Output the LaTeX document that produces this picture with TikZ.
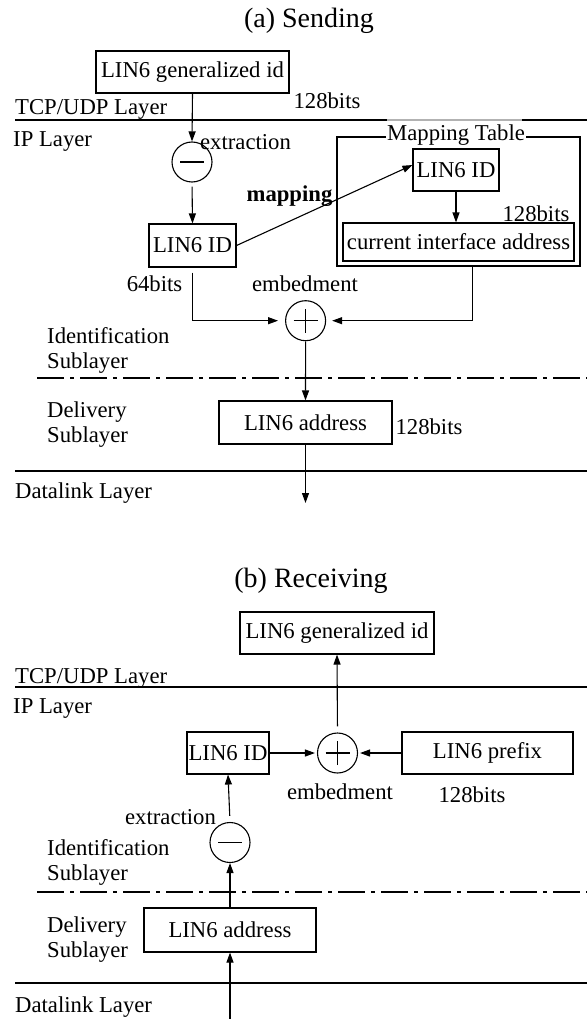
\documentclass[tikz,border=0pt]{standalone}
\usepackage{fontspec}
\setmainfont{Liberation Serif}
\usetikzlibrary{arrows.meta}
\begin{document}
\begin{tikzpicture}[x=1pt,y=-1pt,
  every node/.style={font=\fontsize{22.7}{25}\selectfont, inner sep=0pt},
  tl/.style={yshift=-3pt},
  ttl/.style={font=\fontsize{28}{30}\selectfont, yshift=-3pt},
  box/.style={draw, line width=1.1pt, minimum width=#1, inner sep=0pt},
  op/.style={draw, circle, line width=1.1pt, minimum size=40pt, inner sep=0pt},
  lab/.style={anchor=west, yshift=-3pt},
  two/.style={anchor=west, align=left, yshift=-3pt, font=\fontsize{22.7}{25}\selectfont},
  arr/.style={line width=1.1pt, -{Triangle[length=10pt,width=7pt]}},
  layer/.style={line width=1.1pt},
  sub/.style={line width=1.1pt, dash pattern=on 27pt off 6pt on 4pt off 6pt}
]
\useasboundingbox (0,0) rectangle (587,1019);

% ================= (a) Sending =================
\node[ttl] (ta) at (309,18) {(a) Sending};
\node[box=193pt, minimum height=42pt] (genA) at (192.5,72) {LIN6 generalized id};
\node[tl] (bgA) at (327,98) {128bits};
\node[lab] (tcpA) at (15,106) {TCP/UDP Layer};
\coordinate (lA1) at (15,120);
\coordinate (lA2) at (387,120);
\coordinate (lA3) at (522,120);
\coordinate (lA4) at (587,120);
\draw[layer] (lA1) -- (lA2);
\draw[layer, gray!60] (lA2) -- (lA3);
\draw[layer] (lA3) -- (lA4);
\node[lab] (ipA) at (13,139) {IP Layer};
\node[op] (minA) at (192,162) {};
\draw[line width=1.1pt] ([xshift=-12pt]minA.center) -- ([xshift=12pt]minA.center);
\node[tl] (exA) at (245.5,139) {extraction};
\node[box=87pt, minimum height=43pt] (idA) at (192.5,245.5) {LIN6 ID};
\node[tl] (mapA) at (289.5,193) {\bfseries mapping};
\node[tl] (b64) at (154.5,281) {64bits};

% mapping table
\draw[line width=1.1pt] (337,137) rectangle (580,266);
\node[fill=white, inner xsep=1pt] (mtl) at (456,135) {Mapping Table};
\node[box=86pt, minimum height=42pt] (idM) at (456,170) {LIN6 ID};
\node[tl] (bgM) at (536,211) {128bits};
\node[box=231pt, minimum height=38pt] (cia) at (458.5,242) {current interface address};

\node[tl] (embA) at (305,281) {embedment};
\node[op] (plA) at (305.6,320.7) {};
\draw[line width=1.1pt] ([xshift=-12pt]plA.center) -- ([xshift=12pt]plA.center);
\draw[line width=1.1pt] ([yshift=-12pt]plA.center) -- ([yshift=12pt]plA.center);

\node[two] (idsA) at (47,347) {Identification\\Sublayer};
\draw[sub] (37,378) -- (587,378);
\node[two] (dsA) at (47,422) {Delivery\\Sublayer};
\node[box=173pt, minimum height=43pt] (addrA) at (305.5,422.5) {LIN6 address};
\node[tl] (bgAd) at (429,424) {128bits};
\draw[layer] (15,471) -- (587,471);
\node[lab] (dlA) at (15,490) {Datalink Layer};
\coordinate (endA) at (305.5,503);

% connectors (a)
\draw[arr] (genA.south) -- (minA.north);
\draw[arr, shorten <=4pt] (minA.south) -- (idA.north);
\draw[arr] (idA.east) -- ([yshift=5pt]idM.west);
\draw[arr] (idM.south) -- (cia.north -| idM.south);
\draw[arr, shorten <=5pt, shorten >=7pt] (idA.south) |- (plA.west);
\draw[arr, shorten <=5pt, shorten >=6pt] ([xshift=14pt]cia.south) |- (plA.east);
\draw[arr] (plA.south) -- (addrA.north);
\draw[arr] (addrA.south) -- (endA);

% ================= (b) Receiving =================
\node[ttl] (tb) at (311,578) {(b) Receiving};
\node[box=194pt, minimum height=42pt] (genB) at (337,633) {LIN6 generalized id};
\node[lab] (tcpB) at (15,675) {TCP/UDP Layer};
\draw[layer] (15,687) -- (587,687);
\node[lab] (ipB) at (13,706) {IP Layer};
\node[op] (plB) at (337.5,753) {};
\draw[line width=1.1pt] ([xshift=-12pt]plB.center) -- ([xshift=12pt]plB.center);
\draw[line width=1.1pt] ([yshift=-12pt]plB.center) -- ([yshift=12pt]plB.center);
\node[box=82pt, minimum height=42pt] (idB) at (228,753) {LIN6 ID};
\node[box=171pt, minimum height=42pt] (pfB) at (487.5,753) {LIN6 prefix};
\node[tl] (embB) at (340,789) {embedment};
\node[tl] (bgB) at (472,792) {128bits};
\node[tl] (exB) at (170.5,814) {extraction};
\node[op] (minB) at (230,842.5) {};
\draw[line width=1.1pt] ([xshift=-12pt]minB.center) -- ([xshift=12pt]minB.center);
\node[two] (idsB) at (47,859) {Identification\\Sublayer};
\draw[sub] (37,892) -- (587,892);
\node[two] (dsB) at (47,937) {Delivery\\Sublayer};
\node[box=172pt, minimum height=44pt] (addrB) at (230,930) {LIN6 address};
\draw[layer] (15,983) -- (587,983);
\node[lab] (dlB) at (15,1004) {Datalink Layer};
\coordinate (startB) at (230,1019);

% connectors (b)
\draw[arr, shorten <=6pt] (plB.north) -- (genB.south);
\draw[arr, shorten >=2pt] (idB.east) -- (plB.west);
\draw[arr, shorten >=2pt] (pfB.west) -- (plB.east);
\draw[arr, shorten <=6pt] (minB.north) -- (idB.south);
\draw[arr] (addrB.north) -- (minB.south);
\draw[arr] (startB) -- (addrB.south);
\end{tikzpicture}
\end{document}
